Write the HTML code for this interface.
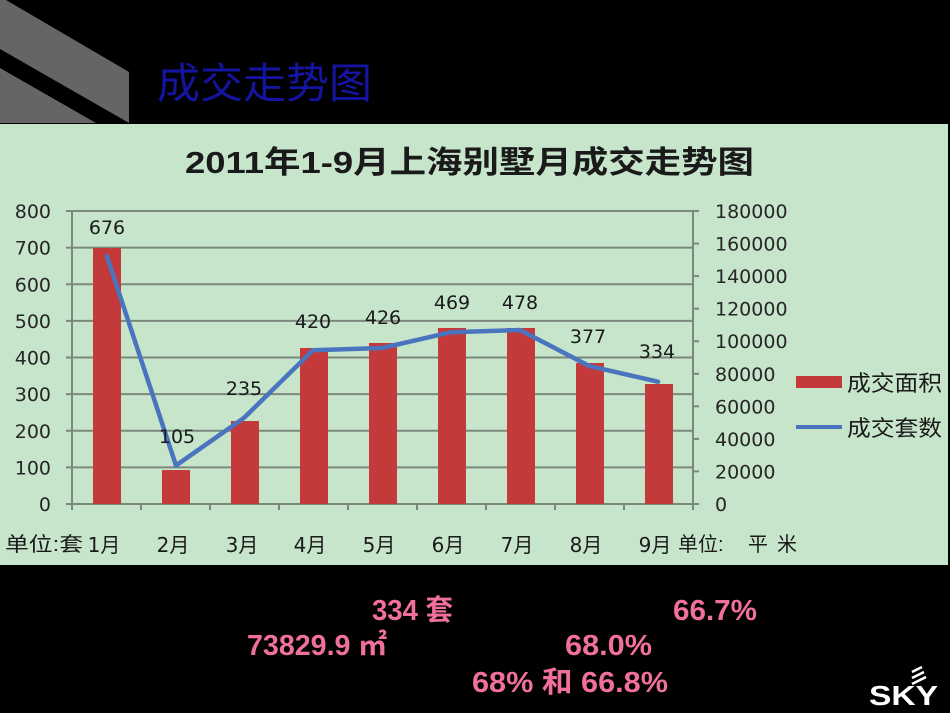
<!DOCTYPE html>
<html>
<head>
<meta charset="utf-8">
<style>
html,body{margin:0;padding:0;background:#000;}
body{width:950px;height:713px;overflow:hidden;}
svg{display:block;}
</style>
</head>
<body>
<svg width="950" height="713" viewBox="0 0 950 713" xmlns="http://www.w3.org/2000/svg">
  <rect x="0" y="0" width="950" height="713" fill="#000"/>
  <!-- gray stripes -->
  <polygon points="0,0 6,0 129,72 129,123 0,49" fill="#656565"/>
  <polygon points="0,68 96,123 0,123" fill="#656565"/>
  <!-- header title -->
  <text x="157" y="98" font-family="'Liberation Sans','Noto Sans CJK SC',sans-serif" font-size="42" fill="#1414a0" textLength="215" lengthAdjust="spacingAndGlyphs">成交走势图</text>

  <!-- chart background -->
  <rect x="0" y="124" width="948" height="441" fill="#c7e5cb"/>

  <!-- chart title -->
  <text x="185" y="173" font-family="'Liberation Sans','Noto Sans CJK SC',sans-serif" font-weight="bold" font-size="31" fill="#1a1a1a" textLength="569" lengthAdjust="spacingAndGlyphs">2011年1-9月上海别墅月成交走势图</text>

  <!-- gridlines -->
  <g stroke="#7b897c" stroke-width="2">
    <line x1="66" y1="211" x2="699" y2="211"/>
    <line x1="66" y1="247.6" x2="693" y2="247.6"/>
    <line x1="66" y1="284.3" x2="693" y2="284.3"/>
    <line x1="66" y1="320.9" x2="693" y2="320.9"/>
    <line x1="66" y1="357.5" x2="693" y2="357.5"/>
    <line x1="66" y1="394.1" x2="693" y2="394.1"/>
    <line x1="66" y1="430.8" x2="693" y2="430.8"/>
    <line x1="66" y1="467.4" x2="693" y2="467.4"/>
    <line x1="66" y1="504" x2="699" y2="504"/>
    <!-- axes -->
    <line x1="72" y1="211" x2="72" y2="510"/>
    <line x1="693" y1="211" x2="693" y2="510"/>
    <!-- right ticks -->
    <line x1="693" y1="243.6" x2="699" y2="243.6"/>
    <line x1="693" y1="276.1" x2="699" y2="276.1"/>
    <line x1="693" y1="308.7" x2="699" y2="308.7"/>
    <line x1="693" y1="341.2" x2="699" y2="341.2"/>
    <line x1="693" y1="373.8" x2="699" y2="373.8"/>
    <line x1="693" y1="406.3" x2="699" y2="406.3"/>
    <line x1="693" y1="438.9" x2="699" y2="438.9"/>
    <line x1="693" y1="471.4" x2="699" y2="471.4"/>
    <!-- x ticks -->
    <line x1="141" y1="504" x2="141" y2="510"/>
    <line x1="210" y1="504" x2="210" y2="510"/>
    <line x1="279" y1="504" x2="279" y2="510"/>
    <line x1="348" y1="504" x2="348" y2="510"/>
    <line x1="417" y1="504" x2="417" y2="510"/>
    <line x1="486" y1="504" x2="486" y2="510"/>
    <line x1="555" y1="504" x2="555" y2="510"/>
    <line x1="624" y1="504" x2="624" y2="510"/>
  </g>

  <!-- bars -->
  <g fill="#c43a3b">
    <rect x="93" y="248" width="28" height="256"/>
    <rect x="162" y="470" width="28" height="34"/>
    <rect x="231" y="421" width="28" height="83"/>
    <rect x="300" y="348" width="28" height="156"/>
    <rect x="369" y="343" width="28" height="161"/>
    <rect x="438" y="328" width="28" height="176"/>
    <rect x="507" y="328" width="28" height="176"/>
    <rect x="576" y="363" width="28" height="141"/>
    <rect x="645" y="384" width="28" height="120"/>
  </g>

  <!-- line -->
  <polyline points="107,256.4 176,465.5 244,417.9 313,350.2 382,348 451,332.2 520,330 589,365.9 658,381.7" fill="none" stroke="#4a74bd" stroke-width="4.5" stroke-linejoin="round" stroke-linecap="round"/>

  <!-- data labels -->
  <g font-family="'DejaVu Sans',sans-serif" font-size="19" fill="#1a1a1a" text-anchor="middle">
    <text x="107" y="234">676</text>
    <text x="177" y="443">105</text>
    <text x="244" y="395">235</text>
    <text x="313" y="328">420</text>
    <text x="383" y="324">426</text>
    <text x="452" y="309">469</text>
    <text x="520" y="309">478</text>
    <text x="588" y="343">377</text>
    <text x="657" y="358">334</text>
  </g>

  <!-- left axis labels -->
  <g font-family="'DejaVu Sans',sans-serif" font-size="19" fill="#262626" text-anchor="end">
    <text x="51" y="218">800</text>
    <text x="51" y="254.6">700</text>
    <text x="51" y="291.3">600</text>
    <text x="51" y="327.9">500</text>
    <text x="51" y="364.5">400</text>
    <text x="51" y="401.1">300</text>
    <text x="51" y="437.8">200</text>
    <text x="51" y="474.4">100</text>
    <text x="51" y="511">0</text>
  </g>

  <!-- right axis labels -->
  <g font-family="'DejaVu Sans',sans-serif" font-size="19" fill="#262626">
    <text x="715" y="218">180000</text>
    <text x="715" y="250.6">160000</text>
    <text x="715" y="283.1">140000</text>
    <text x="715" y="315.7">120000</text>
    <text x="715" y="348.2">100000</text>
    <text x="715" y="380.8">80000</text>
    <text x="715" y="413.3">60000</text>
    <text x="715" y="445.9">40000</text>
    <text x="715" y="478.4">20000</text>
    <text x="715" y="511">0</text>
  </g>

  <!-- x labels -->
  <g font-family="'DejaVu Sans','Noto Sans CJK SC',sans-serif" font-size="20" fill="#1a1a1a" text-anchor="middle">
    <text x="104" y="552">1月</text>
    <text x="173" y="552">2月</text>
    <text x="242" y="552">3月</text>
    <text x="310" y="552">4月</text>
    <text x="379" y="552">5月</text>
    <text x="448" y="552">6月</text>
    <text x="517" y="552">7月</text>
    <text x="586" y="552">8月</text>
    <text x="655" y="552">9月</text>
  </g>
  <g font-family="'Liberation Sans','Noto Sans CJK SC',sans-serif" font-size="20" fill="#1a1a1a">
    <text x="5" y="551" textLength="78" lengthAdjust="spacingAndGlyphs">单位:套</text>
    <text x="678" y="551">单位:</text>
    <text x="748" y="551">平</text>
    <text x="777" y="551">米</text>
  </g>

  <!-- legend -->
  <rect x="796" y="376" width="46" height="12" fill="#c43a3b"/>
  <line x1="796" y1="427" x2="842" y2="427" stroke="#4a74bd" stroke-width="4"/>
  <g font-family="'Liberation Sans','Noto Sans CJK SC',sans-serif" font-size="22" fill="#1a1a1a">
    <text x="847" y="391" textLength="95" lengthAdjust="spacingAndGlyphs">成交面积</text>
    <text x="847" y="436" textLength="95" lengthAdjust="spacingAndGlyphs">成交套数</text>
  </g>

  <!-- bottom pink text -->
  <g font-family="'Liberation Sans','Noto Sans CJK SC',sans-serif" font-size="29" font-weight="bold" fill="#f0709a">
    <text x="372" y="620" textLength="81" lengthAdjust="spacingAndGlyphs">334 套</text>
    <text x="673" y="620" textLength="84" lengthAdjust="spacingAndGlyphs">66.7%</text>
    <text x="247" y="655" textLength="140" lengthAdjust="spacingAndGlyphs">73829.9 ㎡</text>
    <text x="565" y="655" textLength="87" lengthAdjust="spacingAndGlyphs">68.0%</text>
    <text x="472" y="692" textLength="196" lengthAdjust="spacingAndGlyphs">68% 和 66.8%</text>
  </g>

  <!-- SKY logo -->
  <text x="869" y="705" font-family="'Liberation Sans',sans-serif" font-weight="bold" font-size="28" fill="#fff" textLength="69" lengthAdjust="spacingAndGlyphs">SKY</text>
  <g stroke="#fff" stroke-width="2.5">
    <line x1="912" y1="672" x2="922" y2="667"/>
    <line x1="912" y1="678" x2="924" y2="672"/>
    <line x1="912" y1="684" x2="926" y2="677"/>
  </g>
</svg>
</body>
</html>
